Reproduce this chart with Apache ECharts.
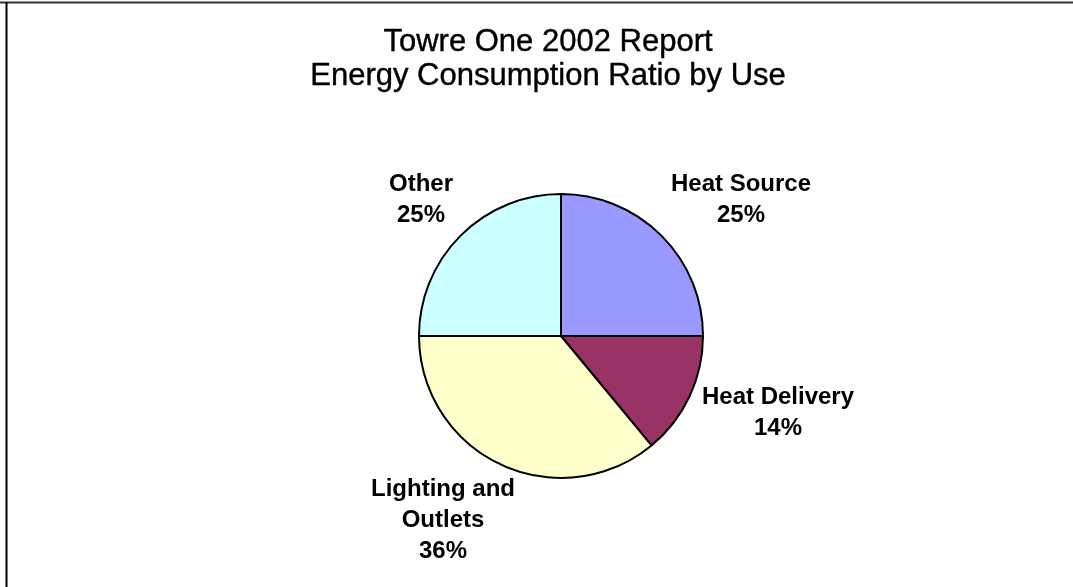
<!DOCTYPE html>
<html>
<head>
<meta charset="utf-8">
<script src="https://cdn.jsdelivr.net/npm/echarts@6/dist/echarts.min.js"></script>
<style>
  html, body { margin: 0; padding: 0; background: #fff; }
  #main { width: 1073px; height: 587px; }
</style>
</head>
<body>
<div id="main"></div>
<script>
// data
var titleLines = ["Towre One 2002 Report", "Energy Consumption Ratio by Use"];
var categories = ["Heat Source", "Heat Delivery", "Lighting and\nOutlets", "Other"];
var values = [25, 14, 36, 25];
var colors = ["#9999ff", "#993366", "#ffffcc", "#ccffff"];

// where each label block sits (center), layout only
var labelPos = [[741, 200], [778, 413], [443, 520], [421, 200]];

var chart = echarts.init(document.getElementById("main"));

var pieData = [];
for (var i = 0; i < categories.length; i++) {
    pieData.push({
        name: categories[i],
        value: values[i],
        itemStyle: { color: colors[i] }
    });
}

var option = {
    backgroundColor: "#fff",
    animation: false,
    title: {
        text: titleLines.join("\n"),
        left: 543,
        top: 20,
        textAlign: "center",
        textStyle: {
            fontFamily: "Liberation Sans, Arial, sans-serif",
            fontSize: 31,
            fontWeight: "normal",
            color: "#000",
            lineHeight: 34,
            textBorderColor: "#000",
            textBorderWidth: 0.4
        }
    },
    graphic: [
        { type: "line", shape: { x1: 0, y1: 2.5, x2: 1073, y2: 2.5 }, style: { stroke: "#333", lineWidth: 2 } },
        { type: "line", shape: { x1: 6.5, y1: 2, x2: 6.5, y2: 587 }, style: { stroke: "#000", lineWidth: 2 } }
    ],
    series: [{
        type: "pie",
        center: [561, 336],
        radius: 142,
        startAngle: 90,
        clockwise: true,
        data: pieData,
        itemStyle: { borderColor: "#000", borderWidth: 2 },
        emphasis: { disabled: true },
        labelLine: { show: false },
        label: {
            show: true,
            position: "outside",
            formatter: function (p) { return p.name + "\n" + Math.round(p.percent) + "%"; },
            fontFamily: "Liberation Sans, Arial, sans-serif",
            fontSize: 24,
            fontWeight: "bold",
            color: "#000",
            lineHeight: 31,
            align: "center"
        },
        labelLayout: function (p) {
            var pos = labelPos[p.dataIndex];
            return { x: pos[0], y: pos[1], align: "center", verticalAlign: "middle" };
        }
    }]
};

chart.setOption(option);
</script>
</body>
</html>
